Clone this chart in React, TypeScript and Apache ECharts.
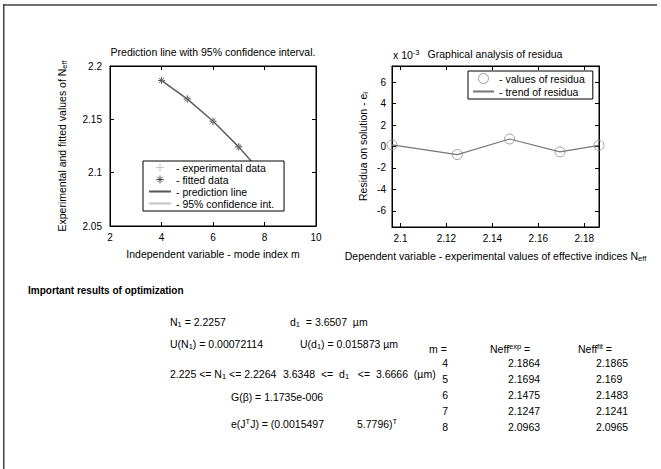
import React, { useEffect, useRef } from "react";
import * as echarts from "echarts";

// ---- data ----
const modeIndex = [4, 5, 6, 7, 8];
const neffExp = [2.1864, 2.1694, 2.1475, 2.1247, 2.0963];
const neffFit = [2.1865, 2.169, 2.1483, 2.1241, 2.0965];
const confUpper = [2.1871, 2.1696, 2.1489, 2.1248, 2.0973];
const confLower = [2.1858, 2.1684, 2.1476, 2.1234, 2.0957];
const residuaX = [2.0963, 2.1247, 2.1475, 2.1694, 2.1864];
const residuaE3 = [0.15, -0.75, 0.7, -0.5, 0.1];

const resultLines = {
  n1: "2.2257",
  d1: "3.6507",
  uN1: "0.00072114",
  ud1: "0.015873",
  nLow: "2.225",
  nHigh: "2.2264",
  dLow: "3.6348",
  dHigh: "3.6666",
  g: "1.1735e-006",
  eig1: "0.0015497",
  eig2: "5.7796",
};

const FONT = '"Liberation Sans", Arial, Helvetica, sans-serif';
const PLUS = "path://M5,0 L5,10 M0,5 L10,5";
const STAR = "path://M5,0 L5,10 M0,5 L10,5 M1.6,1.6 L8.4,8.4 M8.4,1.6 L1.6,8.4";

const RICH = {
  sub: { fontSize: 7.5, fontFamily: FONT, padding: [5, 0, 0, 0], fill: "#000" },
  sup: { fontSize: 7.5, fontFamily: FONT, padding: [0, 0, 6, 0], fill: "#000" },
};

function T(x: number, y: number, text: string, extra: any = {}) {
  return {
    type: "text",
    x,
    y,
    silent: true,
    style: {
      text,
      fill: "#000",
      fontSize: 10.5,
      fontFamily: FONT,
      textVerticalAlign: "middle",
      rich: RICH,
      ...extra,
    },
  };
}

export default function App() {
  const ref = useRef<HTMLDivElement>(null);
  useEffect(() => {
    document.body.style.margin = "0";
    const chart = echarts.init(ref.current!, null, { renderer: "svg" });

    const axisCommon = {
      type: "value",
      axisLine: { show: true, onZero: false, lineStyle: { color: "#000", width: 1 } },
      axisTick: { show: true, inside: true, length: 4, lineStyle: { color: "#000" } },
      axisLabel: { color: "#000", fontSize: 10, fontFamily: FONT },
      splitLine: { show: false },
      nameTextStyle: {
        color: "#000",
        fontSize: 10.5,
        fontFamily: FONT,
        rich: {
          sub: { fontSize: 7.5, fontFamily: FONT, color: "#000", padding: [5, 0, 0, 0] },
        },
      },
    };
    const mirror = (o: any) => ({
      ...axisCommon,
      ...o,
      axisLabel: { show: false },
      name: "",
    });

    const leftX = { min: 2, max: 10, interval: 2 };
    const leftY = { min: 2.05, max: 2.2, interval: 0.05 };
    const rightX = { min: 2.0963, max: 2.1864, splitNumber: 5 };
    const rightY = { min: -7.5, max: 7.5, splitNumber: 7 };

    const graphics: any[] = [
      { type: "rect", shape: { x: 3, y: 4, width: 654, height: 2 }, style: { fill: "#707070" }, silent: true },
      { type: "rect", shape: { x: 3, y: 4, width: 1.5, height: 470 }, style: { fill: "#444" }, silent: true },
      T(213, 52, "Prediction line with 95% confidence interval.", { textAlign: "center" }),
      T(393, 55, "x 10{sup|-3}"),
      T(495, 54, "Graphical analysis of residua", { textAlign: "center" }),
      T(28, 290, "Important results of optimization", { fontWeight: "bold", fontSize: 10 }),
      T(170, 322, `N{sub|1} = ${resultLines.n1}`),
      T(290, 322, `d{sub|1}  = ${resultLines.d1}  µm`),
      T(170, 344, `U(N{sub|1}) = ${resultLines.uN1}`),
      T(300, 344, `U(d{sub|1}) = ${resultLines.ud1} µm`),
      T(170, 374, `${resultLines.nLow} <= N{sub|1} <= ${resultLines.nHigh}`),
      T(283, 374, `${resultLines.dLow}  <=  d{sub|1}   <=  ${resultLines.dHigh}  (µm)`),
      T(231, 397, `G(β) = ${resultLines.g}`),
      T(231, 424, `e(J{sup|T}J) = (${resultLines.eig1}`),
      T(357, 424, `${resultLines.eig2}){sup|T}`),
      T(429, 349, "m ="),
      T(490, 349, "Neff{sup|exp} ="),
      T(578, 349, "Neff{sup|fit} ="),
    ];
    modeIndex.forEach((m, i) => {
      const y = 363 + i * 16;
      graphics.push(T(448, y, String(m), { textAlign: "right" }));
      graphics.push(T(508, y, String(neffExp[i])));
      graphics.push(T(596, y, String(neffFit[i])));
    });

    const legendCommon = {
      orient: "vertical",
      borderColor: "#000",
      borderWidth: 1,
      backgroundColor: "#fff",
      selectedMode: false,
      textStyle: { color: "#000", fontSize: 10.5, fontFamily: FONT },
    };
    const noSymbol = { opacity: 0 };

    chart.setOption({
      animation: false,
      backgroundColor: "#fff",
      grid: [
        { left: 110, top: 66, width: 206, height: 160, show: true, borderColor: "#000", borderWidth: 1 },
        { left: 392, top: 66, width: 207, height: 161, show: true, borderColor: "#000", borderWidth: 1 },
      ],
      xAxis: [
        {
          ...axisCommon, ...leftX, gridIndex: 0,
          axisLabel: { ...axisCommon.axisLabel, margin: 6 },
          name: "Independent variable - mode index m", nameLocation: "middle", nameGap: 22,
        },
        mirror({ ...leftX, gridIndex: 0, position: "top" }),
        {
          ...axisCommon, ...rightX, gridIndex: 1,
          axisLabel: { ...axisCommon.axisLabel, margin: 6, showMinLabel: false, showMaxLabel: false },
          name: "Dependent variable - experimental values of effective indices N{sub|eff}",
          nameLocation: "middle", nameGap: 22,
        },
        mirror({ ...rightX, gridIndex: 1, position: "top" }),
      ],
      yAxis: [
        {
          ...axisCommon, ...leftY, gridIndex: 0,
          axisLabel: { ...axisCommon.axisLabel, margin: 8 },
          name: "Experimental and fitted values of N{sub|eff}",
          nameLocation: "middle", nameGap: 42, nameRotate: 90,
        },
        mirror({ ...leftY, gridIndex: 0, position: "right" }),
        {
          ...axisCommon, ...rightY, gridIndex: 1,
          axisLabel: { ...axisCommon.axisLabel, margin: 6, showMinLabel: false, showMaxLabel: false },
          name: "Residua on solution - e{sub|i}",
          nameLocation: "middle", nameGap: 23, nameRotate: 90,
        },
        mirror({ ...rightY, gridIndex: 1, position: "right" }),
      ],
      legend: [
        {
          ...legendCommon,
          left: 143, top: 161,
          padding: [1, 10, 2, 5],
          itemWidth: 22,
          itemHeight: 8,
          itemGap: 1,
          data: [
            { name: "- experimental data", itemStyle: { color: "rgba(0,0,0,0)", borderColor: "#b5b5b5", borderWidth: 1 } },
            { name: "- fitted data", itemStyle: { color: "rgba(0,0,0,0)", borderColor: "#333", borderWidth: 1 } },
            { name: "- prediction line", itemStyle: noSymbol },
            { name: "- 95% confidence int.", itemStyle: noSymbol },
          ],
        },
        {
          ...legendCommon,
          left: 468, top: 71,
          padding: [2, 8, 2, 4],
          itemWidth: 21,
          itemHeight: 10,
          itemGap: 2,
          data: [
            { name: "- values of residua", itemStyle: { color: "rgba(0,0,0,0)", borderColor: "#8a8a8a", borderWidth: 1 } },
            { name: "- trend of residua", itemStyle: noSymbol },
          ],
        },
      ],
      graphic: graphics,
      series: [
        {
          type: "line", name: "- 95% confidence int.", xAxisIndex: 0, yAxisIndex: 0,
          data: modeIndex.map((m, i) => [m, confUpper[i]]), symbol: "none",
          lineStyle: { color: "#c4c4c4", width: 1 }, itemStyle: { color: "#c4c4c4" },
        },
        {
          type: "line", name: "- 95% confidence int.", xAxisIndex: 0, yAxisIndex: 0,
          data: modeIndex.map((m, i) => [m, confLower[i]]), symbol: "none",
          lineStyle: { color: "#c4c4c4", width: 1 }, itemStyle: { color: "#c4c4c4" },
        },
        {
          type: "line", name: "- prediction line", xAxisIndex: 0, yAxisIndex: 0,
          data: modeIndex.map((m, i) => [m, neffFit[i]]), symbol: "none",
          lineStyle: { color: "#555", width: 1.2 }, itemStyle: { color: "#555" },
        },
        {
          type: "scatter", name: "- experimental data", xAxisIndex: 0, yAxisIndex: 0,
          data: modeIndex.map((m, i) => [m, neffExp[i]]), symbol: PLUS, symbolSize: 7,
          itemStyle: { color: "rgba(0,0,0,0)", borderColor: "#b5b5b5", borderWidth: 1 },
        },
        {
          type: "scatter", name: "- fitted data", xAxisIndex: 0, yAxisIndex: 0,
          data: modeIndex.map((m, i) => [m, neffFit[i]]), symbol: STAR, symbolSize: 7,
          itemStyle: { color: "rgba(0,0,0,0)", borderColor: "#333", borderWidth: 1 },
        },
        {
          type: "line", name: "- trend of residua", xAxisIndex: 2, yAxisIndex: 2,
          data: residuaX.map((x, i) => [x, residuaE3[i]]), symbol: "none",
          lineStyle: { color: "#777", width: 1.2 }, itemStyle: { color: "#999" },
        },
        {
          type: "scatter", name: "- values of residua", xAxisIndex: 2, yAxisIndex: 2,
          data: residuaX.map((x, i) => [x, residuaE3[i]]), symbol: "circle", symbolSize: 10,
          itemStyle: { color: "rgba(0,0,0,0)", borderColor: "#8a8a8a", borderWidth: 1 },
        },
      ],
    });
    return () => chart.dispose();
  }, []);
  return <div ref={ref} style={{ width: 661, height: 469 }} />;
}
